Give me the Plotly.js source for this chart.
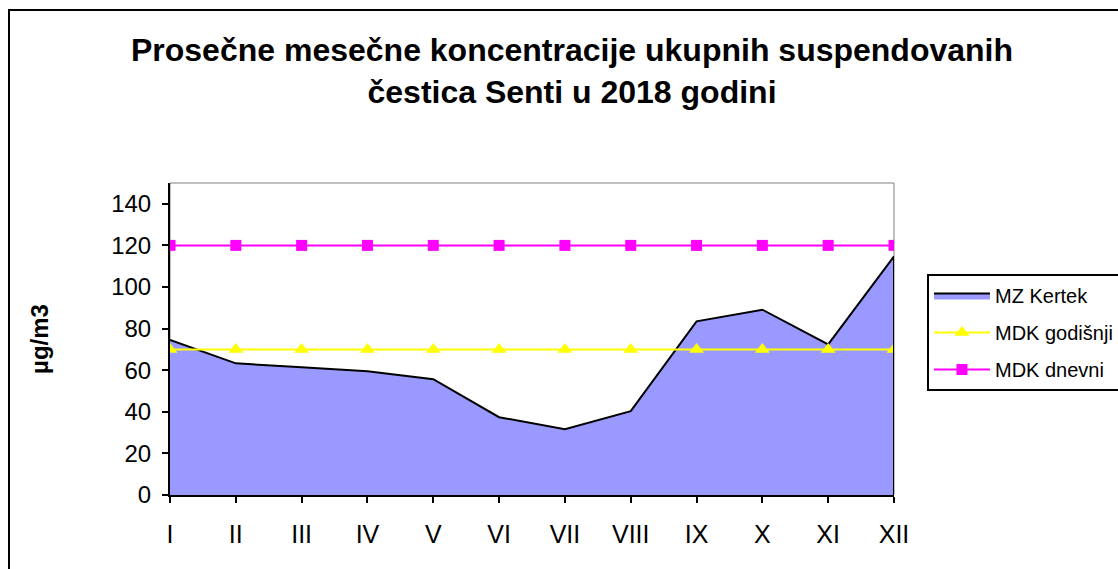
<!DOCTYPE html>
<html><head><meta charset="utf-8">
<script src="https://cdn.plot.ly/plotly-3.0.1.min.js"></script>
<style>html,body{margin:0;padding:0;background:#fff}#chart{width:1118px;height:569px}</style>
</head><body><div id="chart"></div>
<script>
const months = ["I","II","III","IV","V","VI","VII","VIII","IX","X","XI","XII"];
const mzKertek = [74.5, 63.3, 61.4, 59.5, 55.7, 37.4, 31.6, 40.3, 83.5, 89.1, 72.4, 114.7];
const mdkGodisnji = [70, 70, 70, 70, 70, 70, 70, 70, 70, 70, 70, 70];
const mdkDnevni = [120, 120, 120, 120, 120, 120, 120, 120, 120, 120, 120, 120];
const seriesNames = ["MZ Kertek", "MDK godišnji", "MDK dnevni"];
const titleText = "Prosečne mesečne koncentracije ukupnih suspendovanih<br>čestica Senti u 2018 godini";
const yTitle = "µg/m3";

const L = 170, R = 894, T = 183, B = 495, W = 1118, H = 569;
const pw = R - L, ph = B - T;
const px = v => (v - L) / pw, py = v => (B - v) / ph;

const traces = [
  {x: months, y: mzKertek, name: seriesNames[0], type: "scatter", mode: "lines",
   fill: "tozeroy", fillcolor: "#9999FF", line: {color: "#000000", width: 2},
   legendgroup: "a", hoverinfo: "x+y"},
  {x: months, y: mdkGodisnji, name: seriesNames[1], type: "scatter", mode: "lines+markers",
   line: {color: "#FFFF00", width: 2}, marker: {symbol: "triangle-up", size: 13, color: "#FFFF00"},
   legendgroup: "b"},
  {x: months, y: mdkDnevni, name: seriesNames[2], type: "scatter", mode: "lines+markers",
   line: {color: "#FF00FF", width: 2}, marker: {symbol: "square", size: 11, color: "#FF00FF"},
   legendgroup: "c"}
];

const layout = {
  width: W, height: H,
  margin: {l: L, r: W - R, t: T, b: H - B, pad: 0, autoexpand: false},
  paper_bgcolor: "#ffffff", plot_bgcolor: "#ffffff",
  font: {family: "Liberation Sans, Arial, sans-serif", color: "#000000"},
  title: {text: titleText, font: {family: "Liberation Sans, Arial, sans-serif", size: 32, weight: "bold", color: "#000"},
          x: 572 / W, xref: "container", xanchor: "center", y: 1 - 61 / H, yref: "container", yanchor: "top"},
  showlegend: true,
  legend: {x: px(927), y: py(274), xanchor: "left", yanchor: "top", bordercolor: "#000", borderwidth: 2,
           bgcolor: "#fff", font: {size: 20, family: "Liberation Sans, Arial, sans-serif"},
           traceorder: "grouped", tracegroupgap: 8, itemwidth: 56},
  xaxis: {type: "category", range: [0, 11], showgrid: false, zeroline: false,
          showline: true, linecolor: "#000", linewidth: 2,
          ticks: "outside", ticklen: 6, tickwidth: 2, tickcolor: "#000", ticklabelstandoff: 10,
          tickfont: {size: 25}},
  yaxis: {range: [0, 150], dtick: 20, tick0: 0, showgrid: false, zeroline: false,
          showline: true, linecolor: "#000", linewidth: 2,
          ticks: "outside", ticklen: 6, tickwidth: 2, tickcolor: "#000", ticklabelstandoff: 6,
          tickfont: {size: 24},
          title: {text: yTitle, font: {size: 24, weight: "bold"}, standoff: 56}},
  shapes: [
    {type: "rect", xref: "paper", yref: "paper", x0: 0, x1: 1, y0: 0, y1: 1,
     line: {color: "#808080", width: 1}, layer: "below"},
    {type: "line", xref: "x", yref: "y", x0: months[11], x1: months[11], y0: 0, y1: mzKertek[11],
     line: {color: "#000", width: 2}},
    {type: "rect", xref: "paper", yref: "paper", x0: px(9), x1: px(1130), y0: py(580), y1: py(10),
     line: {color: "#000", width: 2}, layer: "below"}
  ]
};

Plotly.newPlot("chart", traces, layout, {displayModeBar: false, staticPlot: true});
</script></body></html>
